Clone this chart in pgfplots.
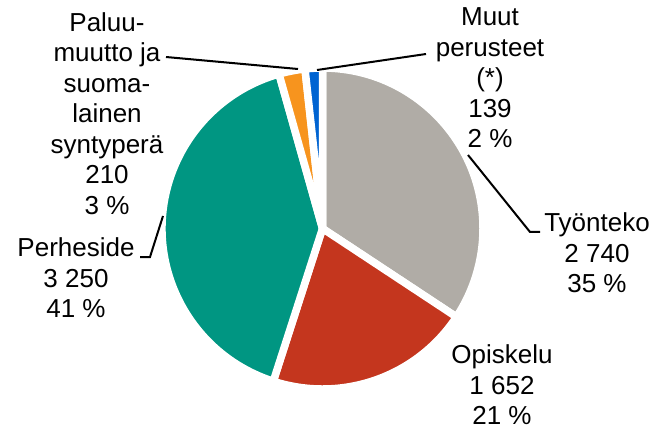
\documentclass[border=0pt]{standalone}
\usepackage{pgfplots}
\pgfplotsset{compat=1.18}
\usepackage{pgfplotstable}
\usepackage{fontspec}
\setmainfont{Liberation Sans}

\definecolor{pieGray}{RGB}{176,172,166}
\definecolor{pieRed}{RGB}{196,54,30}
\definecolor{pieTeal}{RGB}{0,150,130}
\definecolor{pieOrange}{RGB}{247,148,30}
\definecolor{pieBlue}{RGB}{0,100,210}

% slices clockwise from 12 o'clock
\pgfplotstableread{
peruste arvo vari
Tyonteko 2740 pieGray
Opiskelu 1652 pieRed
Perheside 3250 pieTeal
Paluumuutto 210 pieOrange
Muut 139 pieBlue
}\piedata

\begin{document}
\begin{tikzpicture}[font=\fontsize{26}{30.5}\selectfont]
\begin{axis}[
  x=1pt, y=1pt,
  xmin=0, xmax=656, ymin=0, ymax=429,
  hide axis, clip=false,
  at={(0,0)}, anchor=south west,
]
\pgfplotstablegetrowsof{\piedata}
\pgfmathtruncatemacro\nrows{\pgfplotsretval-1}
\def\tot{0}
\pgfplotsforeachungrouped \i in {0,...,\nrows}{%
  \pgfplotstablegetelem{\i}{arvo}\of\piedata
  \pgfmathsetmacro\tot{\tot+\pgfplotsretval}}
\def\cum{0}
\pgfplotsforeachungrouped \i in {0,...,\nrows}{%
  \pgfplotstablegetelem{\i}{arvo}\of\piedata \let\sliceval\pgfplotsretval
  \pgfplotstablegetelem{\i}{vari}\of\piedata \let\slicecol\pgfplotsretval
  \pgfmathsetmacro\angA{90-360*(\cum/\tot)}
  \pgfmathsetmacro\cum{\cum+\sliceval}
  \pgfmathsetmacro\angB{90-360*(\cum/\tot)}
  \edef\temp{\noexpand\fill[\slicecol, draw=white, line width=7.5pt, line join=round]
    (axis cs:322.5,200.5) -- ++(\angA:160.5pt)
    arc[start angle=\angA, end angle=\angB, radius=160.5pt] -- cycle;}
  \temp}

% leader lines
\draw[line width=2pt] (axis cs:317,359) -- (axis cs:426,375);
\draw[line width=2pt] (axis cs:298,360) -- (axis cs:166,372);
\draw[line width=2pt] (axis cs:163,213) -- (axis cs:150,172) -- (axis cs:140,172);
\draw[line width=2pt] (axis cs:468,274) -- (axis cs:530,197) -- (axis cs:540,197);

% data labels
\node[align=center, inner sep=0pt] at (axis cs:490,351) {Muut\\perusteet\\(*)\\139\\2 \%};
\node[align=center, inner sep=0pt] at (axis cs:597,176) {Työnteko\\2 740\\35 \%};
\node[align=center, inner sep=0pt] at (axis cs:502,44) {Opiskelu\\1 652\\21 \%};
\node[align=center, inner sep=0pt] at (axis cs:76,151) {Perheside\\3 250\\41 \%};
\node[align=center, inner sep=0pt] at (axis cs:107,315.5) {Paluu-\\muutto ja\\suoma-\\lainen\\syntyperä\\210\\3 \%};
\end{axis}
\pgfresetboundingbox
\path (0,0) rectangle (656pt,429pt);
\end{tikzpicture}
\end{document}
